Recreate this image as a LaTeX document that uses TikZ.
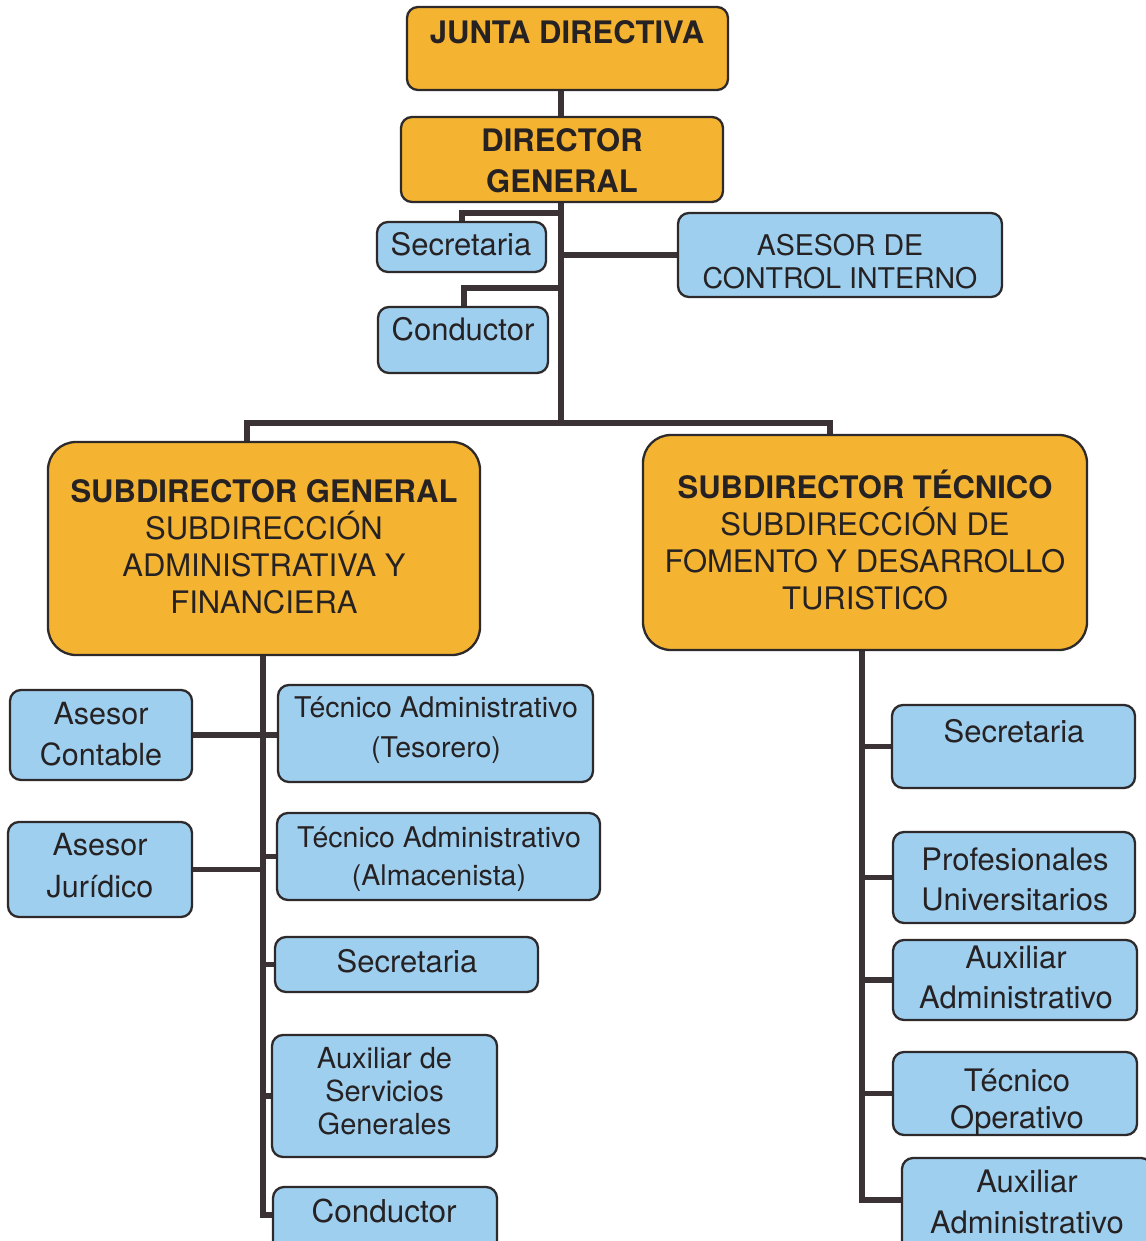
\documentclass[tikz,border=0pt]{standalone}
\usepackage{fontspec}
\setmainfont{TeX Gyre Heros}
\usetikzlibrary{fit,backgrounds}
\definecolor{orgfill}{HTML}{F4B431}
\definecolor{bluefill}{HTML}{9FCFEF}
\definecolor{edgecol}{HTML}{2E2A2B}
\definecolor{conncol}{HTML}{3A3234}
\definecolor{txtcol}{HTML}{262223}
\newcommand\Lns[3]{\fontsize{#1}{#2}\selectfont\begin{tabular}[t]{@{}c@{}}#3\end{tabular}}
\begin{document}
\begin{tikzpicture}[x=1pt,y=-1pt,
  obox/.style={draw=edgecol, line width=2.3pt, fill=orgfill, rounded corners=11pt, inner sep=0pt},
  bbox/.style={draw=edgecol, line width=2.3pt, fill=bluefill, rounded corners=11pt, inner sep=0pt},
  bigbox/.style={obox, rounded corners=28pt},
  txt/.style={anchor=base, inner sep=0pt, text=txtcol},
  conn/.style={draw=conncol, line width=5.5pt, line join=miter}]
\useasboundingbox (0,0) rectangle (1145,1241);
\begin{scope}[on background layer]
  \fill[white] (0,0) rectangle (1145,1241);
\end{scope}

% ---- boxes
\node[obox, fit={(407,7) (728,90)}] (jd) {};
\node[obox, fit={(401,117) (723,202)}] (dg) {};
\node[bbox, fit={(377,222) (546,272)}] (sec1) {};
\node[bbox, fit={(378,307) (548,373)}] (cond1) {};
\node[bbox, fit={(678,213) (1002,297)}] (aci) {};
\node[bigbox, fit={(48,442) (480,655)}] (sg) {};
\node[bigbox, fit={(643,435) (1087,650)}] (st) {};
\node[bbox, fit={(10,690) (192,780)}] (acont) {};
\node[bbox, fit={(8,822) (192,917)}] (ajur) {};
\node[bbox, fit={(278,685) (593,782)}] (tes) {};
\node[bbox, fit={(277,813) (600,900)}] (alm) {};
\node[bbox, fit={(275,937) (538,992)}] (sec2) {};
\node[bbox, fit={(272,1035) (497,1157)}] (auxsg) {};
\node[bbox, fit={(273,1187) (497,1265)}] (cond2) {};
\node[bbox, fit={(892,705) (1135,788)}] (secR) {};
\node[bbox, fit={(893,832) (1135,923)}] (prof) {};
\node[bbox, fit={(893,940) (1137,1020)}] (auxm) {};
\node[bbox, fit={(893,1052) (1137,1135)}] (teco) {};
\node[bbox, fit={(902,1158) (1152,1265)}] (aux3) {};

% ---- texts
\node[txt] (jd-t) at (567,44) {\Lns{31}{37}{\bfseries JUNTA DIRECTIVA}};
\node[txt] (dg-t) at (562,152) {\Lns{31}{41}{\textbf{DIRECTOR}\\\textbf{GENERAL}}};
\node[txt] (sec1-t) at (461,255) {\Lns{31}{37}{Secretaria}};
\node[txt] (cond1-t) at (463,340) {\Lns{31}{37}{Conductor}};
\node[txt] (aci-t) at (840,255) {\Lns{28.5}{33}{ASESOR DE\\CONTROL INTERNO}};
\node[txt] (sg-t) at (264,502) {\Lns{31}{37}{\textbf{SUBDIRECTOR GENERAL}\\\smash{SUBDIRECCIÓN}\\ADMINISTRATIVA Y\\FINANCIERA}};
\node[txt] (st-t) at (865,498) {\Lns{31}{37}{\textbf{SUBDIRECTOR TÉCNICO}\\\smash{SUBDIRECCIÓN DE}\\FOMENTO Y DESARROLLO\\TURISTICO}};
\node[txt] (acont-t) at (101,724) {\Lns{30.5}{41}{Asesor\\Contable}};
\node[txt] (ajur-t) at (100,855) {\Lns{30.5}{42}{Asesor\\Jurídico}};
\node[txt] (tes-t) at (436,717) {\Lns{28.5}{40}{Técnico Administrativo\\(Tesorero)}};
\node[txt] (alm-t) at (439,847) {\Lns{28.5}{38}{Técnico Administrativo\\(Almacenista)}};
\node[txt] (sec2-t) at (407,972) {\Lns{31}{37}{Secretaria}};
\node[txt] (auxsg-t) at (384.5,1068) {\Lns{29}{33}{Auxiliar de\\Servicios\\Generales}};
\node[txt] (cond2-t) at (384,1222) {\Lns{31.5}{37}{Conductor}};
\node[txt] (secR-t) at (1014,742) {\Lns{31}{37}{Secretaria}};
\node[txt] (prof-t) at (1015,870) {\Lns{31}{40}{Profesionales\\Universitarios}};
\node[txt] (auxm-t) at (1016,968) {\Lns{31}{40}{Auxiliar\\Administrativo}};
\node[txt] (teco-t) at (1017,1091) {\Lns{31}{37}{Técnico\\Operativo}};
\node[txt] (aux3-t) at (1027,1192) {\Lns{31}{41}{Auxiliar\\Administrativo}};

% ---- connectors
\coordinate (tk) at (561,0);
\coordinate (busL) at (247,423);
\coordinate (busR) at (830,423);
\coordinate (sj) at (462,213);
\coordinate (cj) at (464,288);
\coordinate (lj) at (263,1215);
\coordinate (rj) at (862,1200);
\begin{scope}[on background layer]
  \draw[conn] (jd.south -| tk) -- (dg.north -| tk);
  \draw[conn] (dg.south -| tk) -- (tk |- busL);
  \draw[conn] (sg.north -| busL) -- (busL) -- (busR) -- (st.north -| busR);
  \draw[conn] (tk |- sj) -- (sj) -- (sec1.north -| sj);
  \draw[conn] (tk |- cj) -- (cj) -- (cond1.north -| cj);
  \draw[conn] (tk |- aci.west) -- (aci.west);
  % left branch
  \draw[conn] (sg.south -| lj) -- (lj) -- (lj -| cond2.west);
  \draw[conn] (acont.east) -- (acont.east -| tes.west);
  \draw[conn] (ajur.east) -- (ajur.east -| lj);
  \draw[conn] (lj |- alm.west) -- (alm.west);
  \draw[conn] (lj |- sec2.west) -- (sec2.west);
  \draw[conn] (lj |- auxsg.west) -- (auxsg.west);
  % right branch
  \draw[conn] (st.south -| rj) -- (rj) -- (rj -| aux3.west);
  \draw[conn] (rj |- secR.west) -- (secR.west);
  \draw[conn] (rj |- prof.west) -- (prof.west);
  \draw[conn] (rj |- auxm.west) -- (auxm.west);
  \draw[conn] (rj |- teco.west) -- (teco.west);
\end{scope}
\end{tikzpicture}
\end{document}
